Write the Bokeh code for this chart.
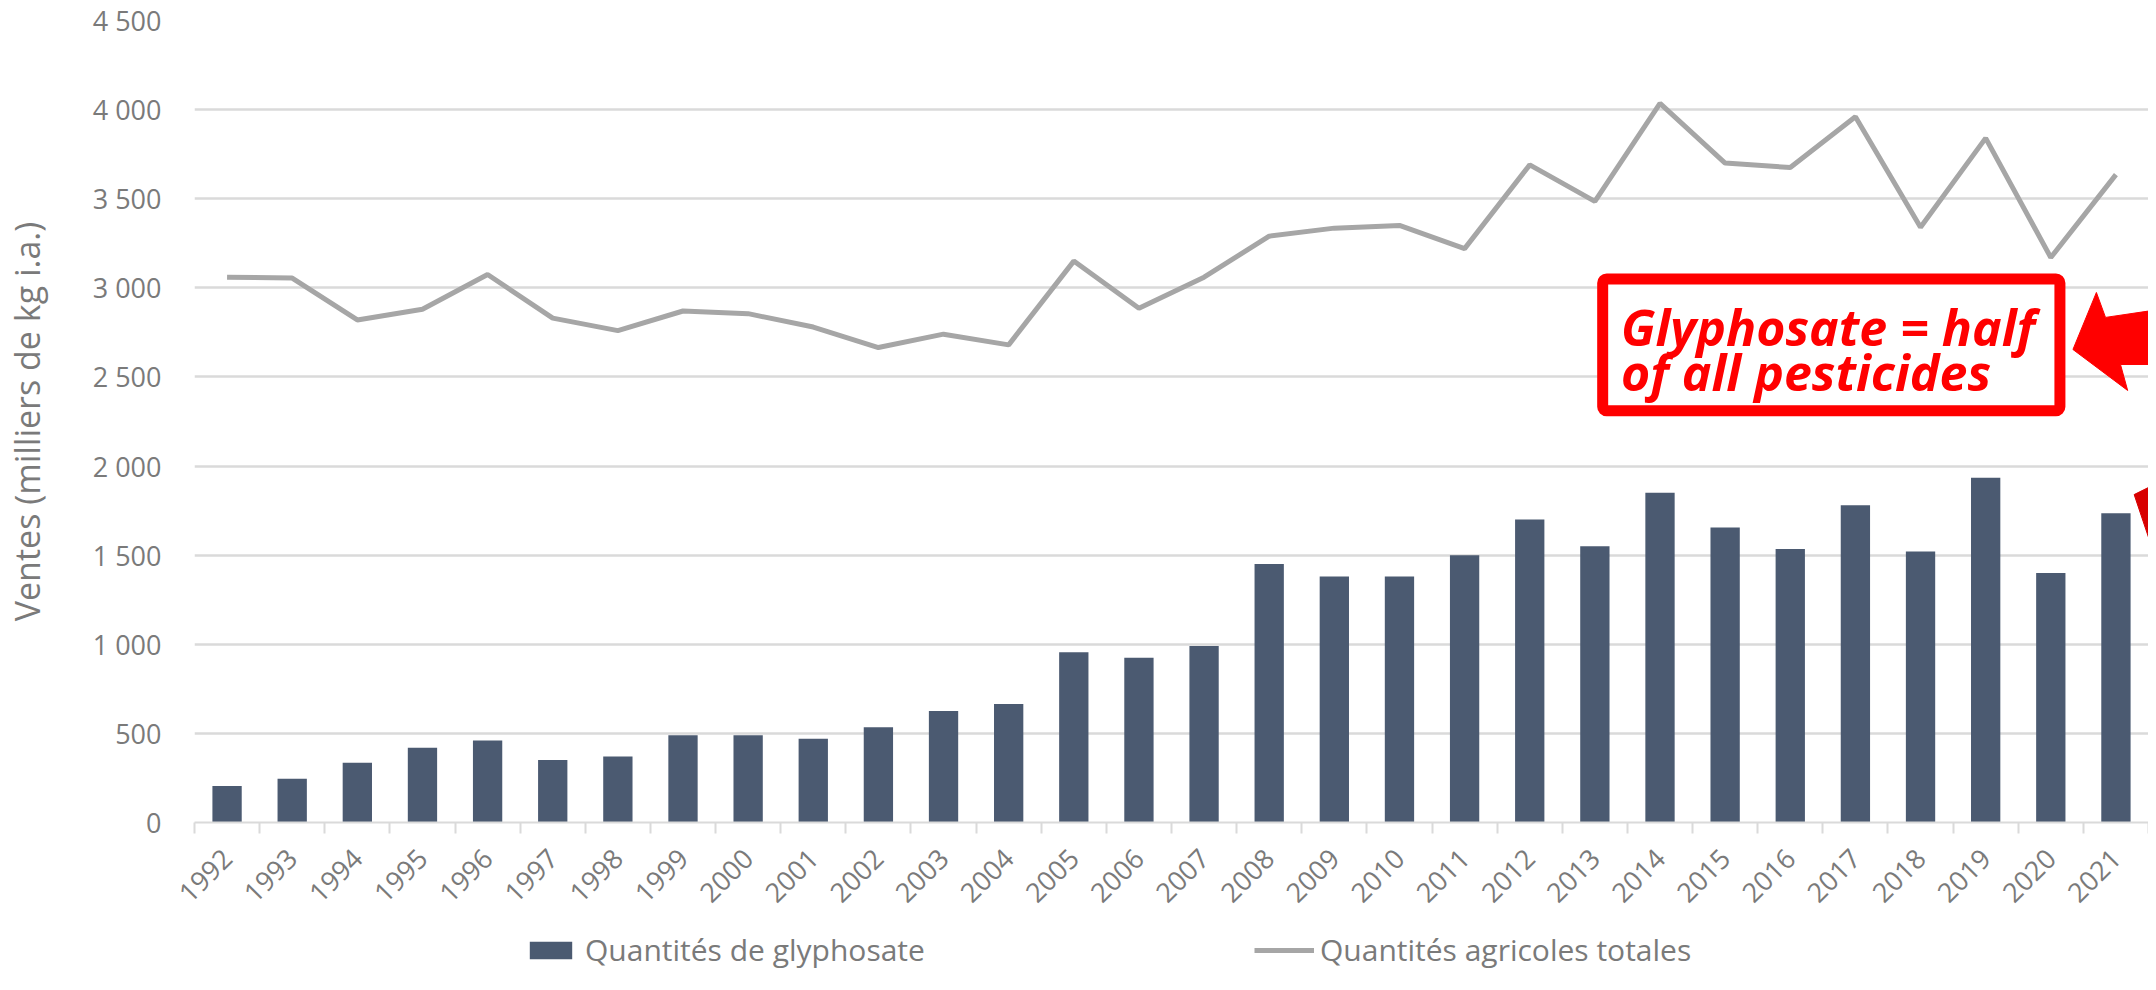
import math
from bokeh.plotting import figure
from bokeh.layouts import column
from bokeh.models import (Range1d, FixedTicker, Legend, LegendItem, Label,
                          BoxAnnotation, ColumnDataSource)
from bokeh.embed import file_html
from bokeh.resources import INLINE

# ---------------- data ----------------
years = ["1992", "1993", "1994", "1995", "1996", "1997", "1998", "1999", "2000", "2001",
         "2002", "2003", "2004", "2005", "2006", "2007", "2008", "2009", "2010", "2011",
         "2012", "2013", "2014", "2015", "2016", "2017", "2018", "2019", "2020", "2021"]
glyphosate = [205, 245, 335, 420, 460, 350, 370, 490, 490, 470,
              535, 625, 665, 955, 925, 990, 1450, 1380, 1380, 1500,
              1700, 1550, 1850, 1655, 1535, 1780, 1520, 1935, 1400, 1735]
totals = [3060, 3055, 2820, 2880, 3075, 2830, 2760, 2870, 2855, 2780,
          2665, 2740, 2680, 3150, 2885, 3060, 3290, 3335, 3350, 3220,
          3690, 3485, 4035, 3700, 3675, 3960, 3340, 3840, 3170, 3635]
y_tick_values = [0, 500, 1000, 1500, 2000, 2500, 3000, 3500, 4000, 4500]
y_tick_labels = ["0", "500", "1 000", "1 500", "2 000", "2 500", "3 000", "3 500", "4 000", "4 500"]
series_names = ["Quantités de glyphosate", "Quantités agricoles totales"]
y_title = "Ventes (milliers de kg i.a.)"
note_lines = ["Glyphosate = half", "of all pesticides"]

# ---------------- styles ----------------
FONT = "Open Sans"
GRAY_TXT = "#7a7a7a"
GRID = "#dadada"
BAR = "#4b5a71"
LINE = "#a6a6a6"
RED = "#ff0000"
W = 2148

n = len(years)
centers = [i + 0.5 for i in range(n)]
src = ColumnDataSource(dict(x=centers, year=years, gly=glyphosate, tot=totals))

p = figure(width=W, height=918, output_backend="svg", toolbar_location=None,
           x_range=Range1d(0, n), y_range=Range1d(0, 4500),
           min_border_left=187, min_border_right=0, min_border_top=20,
           min_border_bottom=96)
p.outline_line_color = None
p.background_fill_color = "white"
p.border_fill_color = "white"

bars = p.vbar(x="x", top="gly", width=0.45, source=src, fill_color=BAR, line_color=None)
line = p.line(x="x", y="tot", source=src, line_color=LINE, line_width=5)

# x axis
xa = p.xaxis[0]
xa.ticker = FixedTicker(ticks=centers, minor_ticks=list(range(n + 1)))
xa.major_label_overrides = {c: y for c, y in zip(centers, years)}
xa.major_label_orientation = math.pi / 4
xa.major_tick_line_color = None
xa.major_tick_out = 0
xa.major_tick_in = 0
xa.minor_tick_line_color = GRID
xa.minor_tick_line_width = 2
xa.minor_tick_out = 11
xa.minor_tick_in = 0
xa.axis_line_color = GRID
xa.axis_line_width = 2
xa.major_label_standoff = 20
xa.major_label_text_font = FONT
xa.major_label_text_font_size = "27px"
xa.major_label_text_color = GRAY_TXT

# y axis
ya = p.yaxis[0]
ya.ticker = FixedTicker(ticks=y_tick_values, minor_ticks=[])
ya.major_label_overrides = {v: t for v, t in zip(y_tick_values, y_tick_labels)}
ya.axis_line_color = None
ya.major_tick_line_color = None
ya.minor_tick_line_color = None
ya.major_label_standoff = 27
ya.major_label_text_font = FONT
ya.major_label_text_font_size = "27px"
ya.major_label_text_color = GRAY_TXT
ya.axis_label = y_title
ya.axis_label_text_font = FONT
ya.axis_label_text_font_size = "34px"
ya.axis_label_text_font_style = "normal"
ya.axis_label_text_color = GRAY_TXT
ya.axis_label_standoff = 40

p.xgrid.grid_line_color = None
p.ygrid.grid_line_color = GRID
p.ygrid.grid_line_width = 2.5

# ---------------- annotation (red box, text, arrows) ----------------
box = BoxAnnotation(left=21.62, right=28.64, top=3050, bottom=2310,
                    fill_color="white", fill_alpha=1.0,
                    line_color=RED, line_width=11, line_alpha=1.0,
                    border_radius=4, level="annotation")
p.add_layout(box)

note_x = 21.9
note_y = [2780, 2525]
for txt, yy in zip(note_lines, note_y):
    p.add_layout(Label(x=note_x, y=yy, text=txt, text_font=FONT,
                       text_font_size="50px", text_font_style="bold italic",
                       text_color=RED, text_baseline="alphabetic", level="overlay"))

arrow1_x = [28.84, 29.20, 29.34, 30.06, 30.06, 29.57, 29.68]
arrow1_y = [2654, 2974, 2834, 2873, 2570, 2570, 2424]
p.patch(arrow1_x, arrow1_y, fill_color=RED, line_color=RED, line_width=1)

arrow2_x = [29.78, 30.0, 30.0]
arrow2_y = [1840, 1880, 1600]
p.patch(arrow2_x, arrow2_y, fill_color="#d80000", line_color="#d80000", line_width=1)

# ---------------- legend strip (separate small figure below) ----------------
lg = figure(width=W, height=56, output_backend="svg", toolbar_location=None,
            x_range=Range1d(0, 1), y_range=Range1d(0, 1),
            x_axis_type=None, y_axis_type=None,
            min_border_left=0, min_border_right=0, min_border_top=0, min_border_bottom=0)
lg.outline_line_color = None
lg.xgrid.visible = False
lg.ygrid.visible = False
# proxy renderers that draw nothing (zero height bar, single-point line); they only feed the legend swatches
lg_bar = lg.vbar(x=[0.5], top=[0], bottom=[0], width=0.01, fill_color=BAR, line_color=None)
lg_line = lg.line(x=[0.5], y=[0.5], line_color=LINE, line_width=5)

leg_common = dict(orientation="horizontal", glyph_height=22, padding=0, margin=0,
                  border_line_color=None, background_fill_alpha=0,
                  label_text_font=FONT, label_text_font_size="30px",
                  label_text_color=GRAY_TXT)
leg1 = Legend(items=[LegendItem(label=series_names[0], renderers=[lg_bar])],
              location=(330, 4), glyph_width=53, label_standoff=8, **leg_common)
leg2 = Legend(items=[LegendItem(label=series_names[1], renderers=[lg_line])],
              location=(1060, 4), glyph_width=60, label_standoff=6, **leg_common)
lg.add_layout(leg1, "center")
lg.add_layout(leg2, "center")

layout = column(p, lg, spacing=0)
open("out.html", "w").write(file_html(layout, INLINE))
